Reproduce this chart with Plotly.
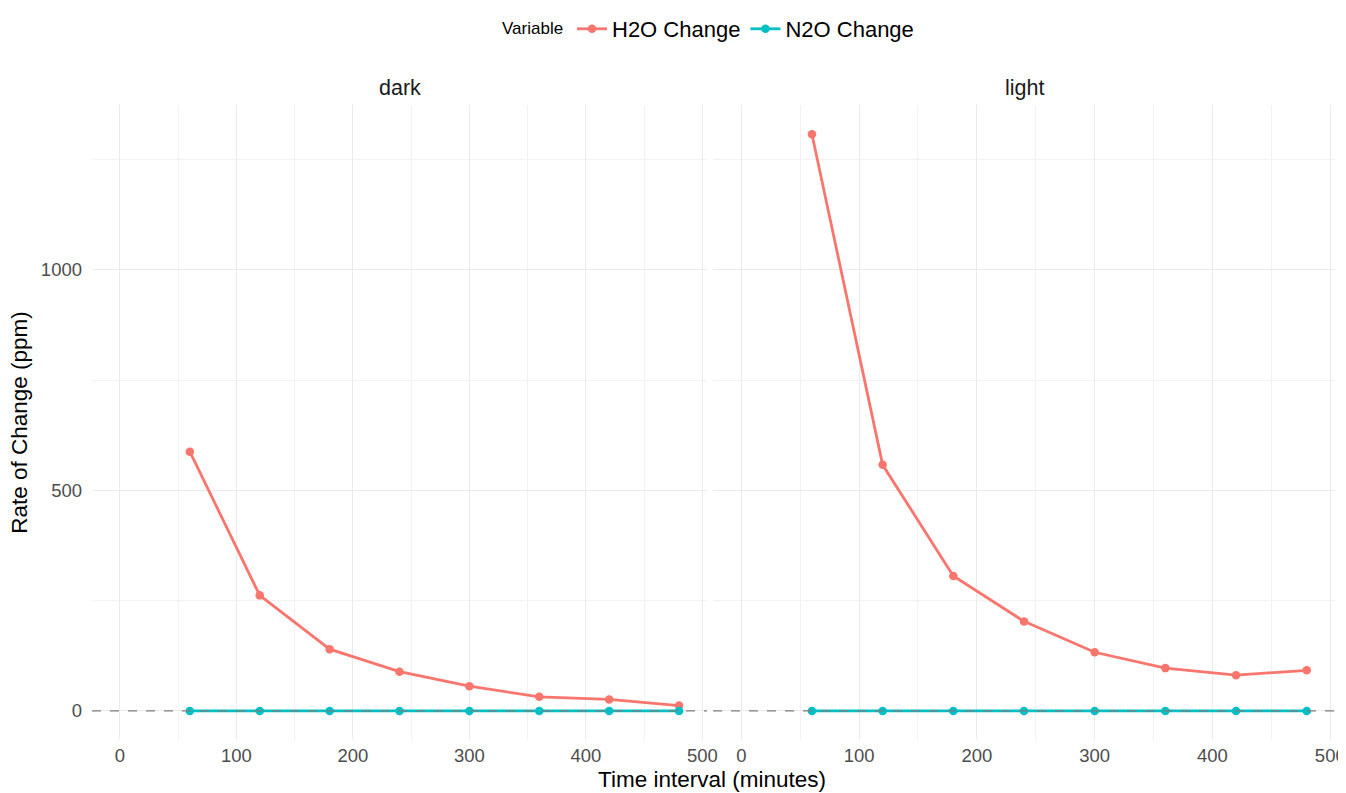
import plotly.graph_objects as go
from plotly.subplots import make_subplots

time_min = [60, 120, 180, 240, 300, 360, 420, 480]
panels = ["dark", "light"]
h2o_dark = [588, 262, 140, 89, 56, 32, 26, 12]
n2o_dark = [0, 0, 0, 0, 0, 0, 0, 0]
h2o_light = [1308, 558, 306, 203, 133, 97, 81, 92]
n2o_light = [0, 0, 0, 0, 0, 0, 0, 0]
series_names = ["H2O Change", "N2O Change"]
series_colors = ["#F8766D", "#00BFC4"]
x_ticks = [0, 100, 200, 300, 400, 500]
y_ticks = [0, 500, 1000]

# page body has an 8px default margin; figure sized to fit the 1346x793 window
OFF = 8
W, H = 1346 - OFF, 793 - OFF
FONT = "Liberation Sans, Arial, sans-serif"

def px_x(p):
    return (p - OFF) / W

def px_y(p):
    return 1 - (p - OFF) / H

fig = make_subplots(rows=1, cols=2, shared_yaxes=True)

data = {"dark": [h2o_dark, n2o_dark], "light": [h2o_light, n2o_light]}
for ci, panel in enumerate(panels):
    for si, name in enumerate(series_names):
        fig.add_trace(
            go.Scatter(
                x=time_min, y=data[panel][si], mode="lines+markers", name=name,
                line=dict(color=series_colors[si], width=2.8),
                marker=dict(color=series_colors[si], size=8.5),
                legendgroup=name, showlegend=(ci == 0),
            ),
            row=1, col=ci + 1,
        )
    fig.add_hline(y=0, line=dict(color="#7F7F7F", width=1.2, dash="dash"), row=1, col=ci + 1)

grid = "#EBEBEB"
axis_common = dict(
    showline=False, zeroline=False, ticks="", automargin=False,
    showgrid=True, gridcolor=grid, gridwidth=1.2,
    tickfont=dict(family=FONT, size=18.5, color="#4D4D4D"),
)

fig.update_xaxes(
    range=[-24, 504], tickvals=x_ticks,
    minor=dict(dtick=50, tick0=0, showgrid=True, gridcolor="#F2F2F2", gridwidth=0.7),
    ticklabelstandoff=3,
    **axis_common,
)
fig.update_yaxes(
    range=[-65, 1374], tickvals=y_ticks,
    minor=dict(dtick=250, tick0=0, showgrid=True, gridcolor="#F2F2F2", gridwidth=0.7),
    ticklabelstandoff=9,
    domain=[px_y(739), px_y(98)],
    **axis_common,
)

fig.update_layout(
    xaxis=dict(domain=[px_x(92), px_x(707)]),
    xaxis2=dict(domain=[px_x(713), px_x(1335)]),
)

def ann(text, x, y, size, color="#000000", xanchor="center", **kw):
    return dict(text=text, x=px_x(x), y=px_y(y), xref="paper", yref="paper",
                showarrow=False, yanchor="middle", xanchor=xanchor,
                font=dict(family=FONT, size=size, color=color), **kw)

annotations = [
    ann("dark", (92 + 707) / 2, 81, 21.5, "#1A1A1A"),
    ann("light", (713 + 1335) / 2, 81, 21.5, "#1A1A1A"),
    ann("Time interval (minutes)", 712, 779, 22.5),
    ann("Rate of Change (ppm)", 20, 419, 22.5, textangle=-90),
    ann("Variable", 565, 21, 17, xanchor="right"),
]

fig.update_layout(
    width=W, height=H,
    margin=dict(l=0, r=0, t=0, b=0),
    paper_bgcolor="white", plot_bgcolor="white",
    font=dict(family=FONT),
    annotations=annotations,
    legend=dict(
        orientation="h", x=px_x(572), xanchor="left", y=px_y(21), yanchor="middle",
        font=dict(family=FONT, size=22, color="#000000"),
        itemwidth=30, tracegroupgap=0,
    ),
)

fig.write_html("out.html")
